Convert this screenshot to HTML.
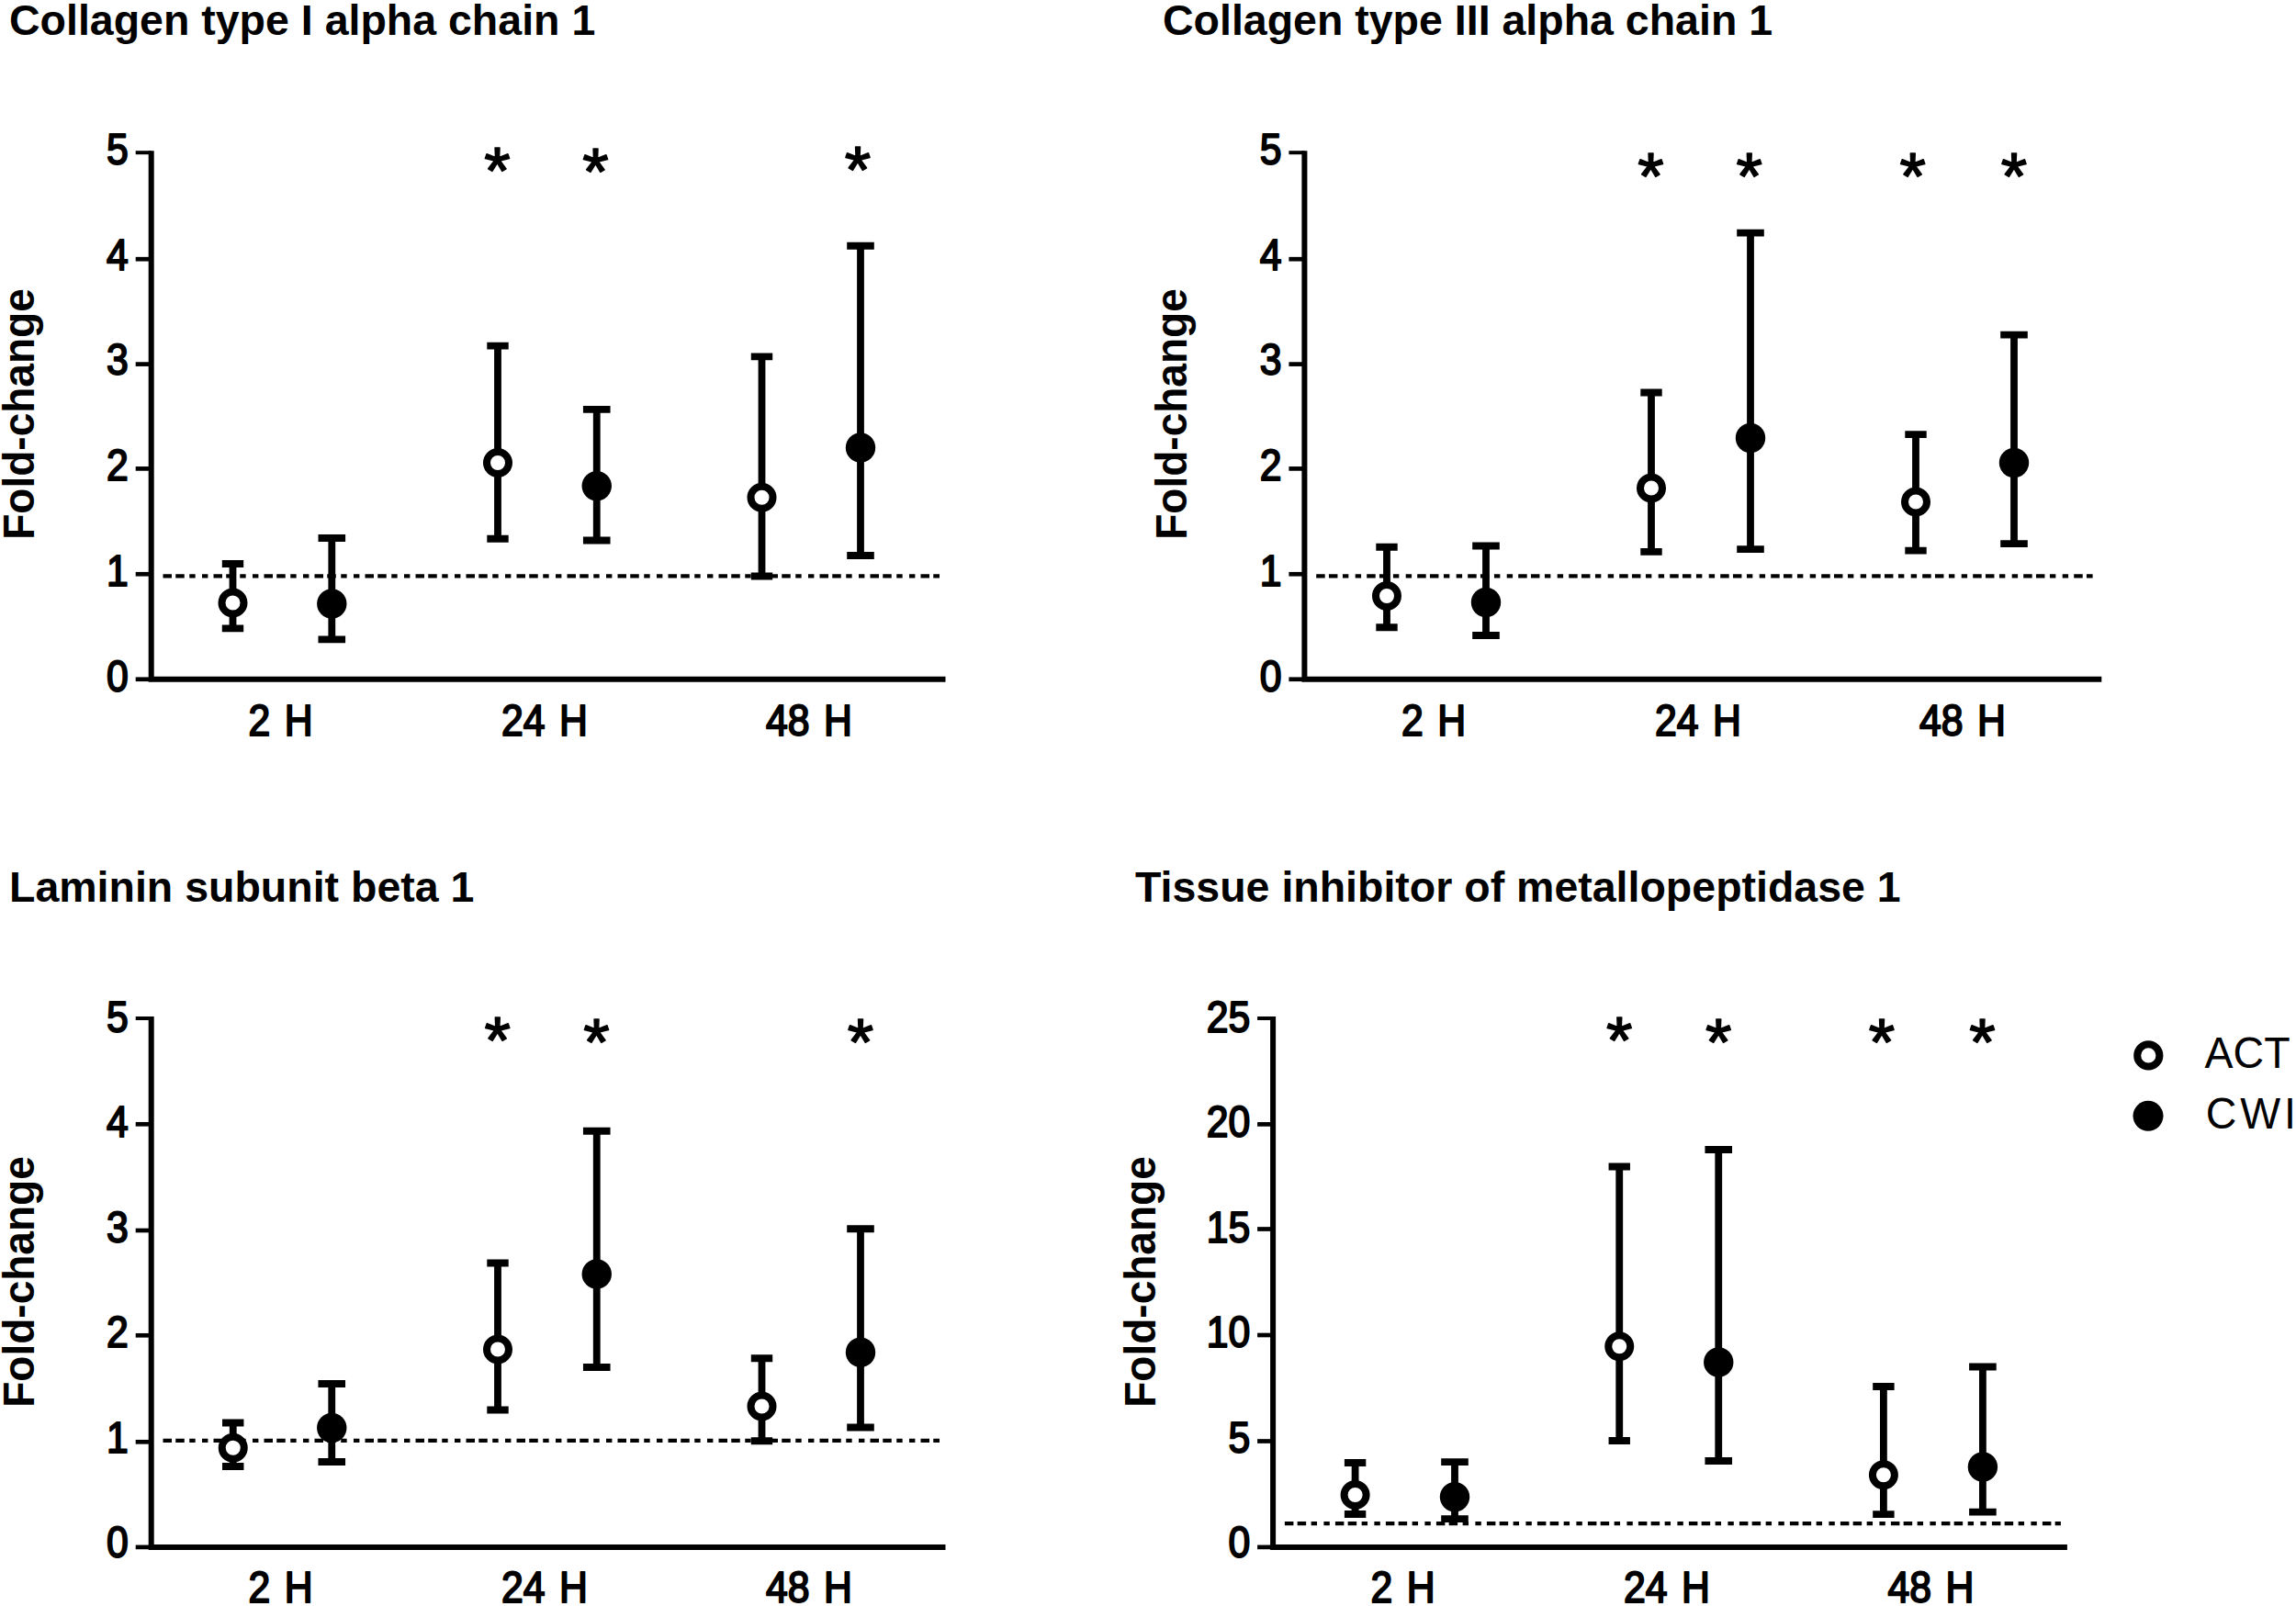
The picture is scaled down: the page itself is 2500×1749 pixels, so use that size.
<!DOCTYPE html>
<html lang="en"><head><meta charset="utf-8"><title>Fold-change plots</title>
<style>html,body{margin:0;padding:0;background:#fff}body{width:2500px;height:1749px;overflow:hidden}svg{display:block}
text{font-family:"Liberation Sans",Arial,Helvetica,sans-serif;fill:#000}
.t{font-weight:bold;font-size:46.5px}
.k{font-size:47.5px;stroke:#000;stroke-width:2px;stroke-linejoin:round;word-spacing:4px}
.y{font-weight:bold;font-size:47.2px}
.a{font-size:73px;text-anchor:middle;stroke:#000;stroke-width:1.6px;stroke-linejoin:round}
.l{font-size:48.6px}
.ax{stroke:#000;stroke-width:6;fill:none}
.tk{stroke:#000;stroke-width:4.7;fill:none}
.eb{stroke:#000;stroke-width:7.8;fill:none}
.dl{stroke:#000;stroke-width:4.2;fill:none;stroke-dasharray:9.5 4.25 9.5 5.5 6.4 7.35 6.4 6.1;stroke-linecap:butt}
.oc{fill:#fff;stroke:#000;stroke-width:8}
.fc{fill:#000}
</style></head><body>
<svg width="2500" height="1749" viewBox="0 0 2500 1749">
<rect width="2500" height="1749" fill="#fff"/>
<g>
<text class="t" x="10" y="38">Collagen type I alpha chain 1</text>
<line class="dl" x1="177.5" y1="627.3" x2="1023" y2="627.3"/>
<path class="ax" d="M164.7 164.2 V739.75 H1029.5"/>
<line class="tk" x1="147.7" y1="739.75" x2="164.7" y2="739.75"/>
<text class="k" text-anchor="end" transform="translate(139.8 752.65) scale(0.9 1)">0</text>
<line class="tk" x1="147.7" y1="625.25" x2="164.7" y2="625.25"/>
<text class="k" text-anchor="end" transform="translate(139.8 637.9) scale(0.9 1)">1</text>
<line class="tk" x1="147.7" y1="510.4" x2="164.7" y2="510.4"/>
<text class="k" text-anchor="end" transform="translate(139.8 523.15) scale(0.9 1)">2</text>
<line class="tk" x1="147.7" y1="396.6" x2="164.7" y2="396.6"/>
<text class="k" text-anchor="end" transform="translate(139.8 408.4) scale(0.9 1)">3</text>
<line class="tk" x1="147.7" y1="282.2" x2="164.7" y2="282.2"/>
<text class="k" text-anchor="end" transform="translate(139.8 293.65) scale(0.9 1)">4</text>
<line class="tk" style="stroke-width:4" x1="147.7" y1="166.2" x2="164.7" y2="166.2"/>
<text class="k" text-anchor="end" transform="translate(139.8 178.9) scale(0.9 1)">5</text>
<text class="y" text-anchor="middle" transform="translate(37.3 451) rotate(-90) scale(.975 1)">Fold-change</text>
<text class="k" text-anchor="middle" transform="translate(305.5 800.5) scale(0.9 1)">2 H</text>
<text class="k" text-anchor="middle" transform="translate(593 800.5) scale(0.9 1)">24 H</text>
<text class="k" text-anchor="middle" transform="translate(881 800.5) scale(0.9 1)">48 H</text>
<path class="eb" d="M241.8 614 H265.2 M241.8 684.4 H265.2 M253.5 614 V684.4"/>
<circle class="oc" cx="253.5" cy="656.5" r="12"/>
<path class="eb" d="M346.5 586 H376.1 M346.5 696.3 H376.1 M361.3 586 V696.3"/>
<circle class="fc" cx="361.3" cy="657.5" r="16.2"/>
<path class="eb" d="M530.3 376.6 H553.7 M530.3 586.75 H553.7 M542 376.6 V586.75"/>
<circle class="oc" cx="542" cy="504" r="12"/>
<path class="eb" d="M634.95 445.9 H664.55 M634.95 588.5 H664.55 M649.75 445.9 V588.5"/>
<circle class="fc" cx="649.75" cy="529.25" r="16.2"/>
<path class="eb" d="M817.8 388.4 H841.2 M817.8 627.5 H841.2 M829.5 388.4 V627.5"/>
<circle class="oc" cx="829.5" cy="541.75" r="12"/>
<path class="eb" d="M922.2 267.75 H951.8 M922.2 605 H951.8 M937 267.75 V605"/>
<circle class="fc" cx="937" cy="487.5" r="16.2"/>
<text class="a" x="541.4" y="211.1">*</text>
<text class="a" x="648.4" y="212.1">*</text>
<text class="a" x="934" y="209.6">*</text>
</g>
<g>
<text class="t" x="1266" y="38">Collagen type III alpha chain 1</text>
<line class="dl" x1="1433.2" y1="627.3" x2="2278.6" y2="627.3"/>
<path class="ax" d="M1420.4 164.2 V739.75 H2288.3"/>
<line class="tk" x1="1403.4" y1="739.75" x2="1420.4" y2="739.75"/>
<text class="k" text-anchor="end" transform="translate(1395.5 752.65) scale(0.9 1)">0</text>
<line class="tk" x1="1403.4" y1="625.25" x2="1420.4" y2="625.25"/>
<text class="k" text-anchor="end" transform="translate(1395.5 637.9) scale(0.9 1)">1</text>
<line class="tk" x1="1403.4" y1="510.4" x2="1420.4" y2="510.4"/>
<text class="k" text-anchor="end" transform="translate(1395.5 523.15) scale(0.9 1)">2</text>
<line class="tk" x1="1403.4" y1="396.6" x2="1420.4" y2="396.6"/>
<text class="k" text-anchor="end" transform="translate(1395.5 408.4) scale(0.9 1)">3</text>
<line class="tk" x1="1403.4" y1="282.2" x2="1420.4" y2="282.2"/>
<text class="k" text-anchor="end" transform="translate(1395.5 293.65) scale(0.9 1)">4</text>
<line class="tk" style="stroke-width:4" x1="1403.4" y1="166.2" x2="1420.4" y2="166.2"/>
<text class="k" text-anchor="end" transform="translate(1395.5 178.9) scale(0.9 1)">5</text>
<text class="y" text-anchor="middle" transform="translate(1292.3 451) rotate(-90) scale(.975 1)">Fold-change</text>
<text class="k" text-anchor="middle" transform="translate(1561 800.5) scale(0.9 1)">2 H</text>
<text class="k" text-anchor="middle" transform="translate(1849 800.5) scale(0.9 1)">24 H</text>
<text class="k" text-anchor="middle" transform="translate(2137 800.5) scale(0.9 1)">48 H</text>
<path class="eb" d="M1498.3 595.75 H1521.7 M1498.3 683.25 H1521.7 M1510 595.75 V683.25"/>
<circle class="oc" cx="1510" cy="649" r="12"/>
<path class="eb" d="M1603.2 594.5 H1632.8 M1603.2 692 H1632.8 M1618 594.5 V692"/>
<circle class="fc" cx="1618" cy="656" r="16.2"/>
<path class="eb" d="M1786.3 427.5 H1809.7 M1786.3 600.9 H1809.7 M1798 427.5 V600.9"/>
<circle class="oc" cx="1798" cy="531.5" r="12"/>
<path class="eb" d="M1891.2 253.6 H1920.8 M1891.2 598.1 H1920.8 M1906 253.6 V598.1"/>
<circle class="fc" cx="1906" cy="477" r="16.2"/>
<path class="eb" d="M2074.3 473.1 H2097.7 M2074.3 599.6 H2097.7 M2086 473.1 V599.6"/>
<circle class="oc" cx="2086" cy="546.5" r="12"/>
<path class="eb" d="M2178.2 364.6 H2207.8 M2178.2 592.1 H2207.8 M2193 364.6 V592.1"/>
<circle class="fc" cx="2193" cy="504" r="16.2"/>
<text class="a" x="1797.5" y="217">*</text>
<text class="a" x="1904.75" y="217">*</text>
<text class="a" x="2082.75" y="217">*</text>
<text class="a" x="2193" y="217">*</text>
</g>
<g>
<text class="t" x="10" y="981.5">Laminin subunit beta 1</text>
<line class="dl" x1="177.5" y1="1568.8" x2="1023" y2="1568.8"/>
<path class="ax" d="M164.7 1107 V1684.9 H1029.5"/>
<line class="tk" x1="147.7" y1="1684.9" x2="164.7" y2="1684.9"/>
<text class="k" text-anchor="end" transform="translate(139.8 1696) scale(0.9 1)">0</text>
<line class="tk" x1="147.7" y1="1570.3" x2="164.7" y2="1570.3"/>
<text class="k" text-anchor="end" transform="translate(139.8 1581.58) scale(0.9 1)">1</text>
<line class="tk" x1="147.7" y1="1454.3" x2="164.7" y2="1454.3"/>
<text class="k" text-anchor="end" transform="translate(139.8 1467.16) scale(0.9 1)">2</text>
<line class="tk" x1="147.7" y1="1340" x2="164.7" y2="1340"/>
<text class="k" text-anchor="end" transform="translate(139.8 1352.74) scale(0.9 1)">3</text>
<line class="tk" x1="147.7" y1="1224.3" x2="164.7" y2="1224.3"/>
<text class="k" text-anchor="end" transform="translate(139.8 1238.32) scale(0.9 1)">4</text>
<line class="tk" style="stroke-width:4" x1="147.7" y1="1109" x2="164.7" y2="1109"/>
<text class="k" text-anchor="end" transform="translate(139.8 1123.9) scale(0.9 1)">5</text>
<text class="y" text-anchor="middle" transform="translate(37.3 1396) rotate(-90) scale(.975 1)">Fold-change</text>
<text class="k" text-anchor="middle" transform="translate(305.5 1744.7) scale(0.9 1)">2 H</text>
<text class="k" text-anchor="middle" transform="translate(593 1744.7) scale(0.9 1)">24 H</text>
<text class="k" text-anchor="middle" transform="translate(881 1744.7) scale(0.9 1)">48 H</text>
<path class="eb" d="M242.05 1549.5 H265.45 M242.05 1597 H265.45 M253.75 1549.5 V1597"/>
<circle class="oc" cx="253.75" cy="1576.75" r="12"/>
<path class="eb" d="M346.45 1507 H376.05 M346.45 1592 H376.05 M361.25 1507 V1592"/>
<circle class="fc" cx="361.25" cy="1555" r="16.2"/>
<path class="eb" d="M530.3 1375.5 H553.7 M530.3 1535.5 H553.7 M542 1375.5 V1535.5"/>
<circle class="oc" cx="542" cy="1469.5" r="12"/>
<path class="eb" d="M634.95 1231.75 H664.55 M634.95 1489 H664.55 M649.75 1231.75 V1489"/>
<circle class="fc" cx="649.75" cy="1387.5" r="16.2"/>
<path class="eb" d="M817.8 1479.25 H841.2 M817.8 1569.25 H841.2 M829.5 1479.25 V1569.25"/>
<circle class="oc" cx="829.5" cy="1531.5" r="12"/>
<path class="eb" d="M922.2 1338.25 H951.8 M922.2 1554.5 H951.8 M937 1338.25 V1554.5"/>
<circle class="fc" cx="937" cy="1472.75" r="16.2"/>
<text class="a" x="541.6" y="1158.35">*</text>
<text class="a" x="649.4" y="1160.1">*</text>
<text class="a" x="936.9" y="1160.1">*</text>
</g>
<g>
<text class="t" x="1236" y="981.5">Tissue inhibitor of metallopeptidase 1</text>
<line class="dl" x1="1398.9" y1="1659.2" x2="2243.9" y2="1659.2"/>
<path class="ax" d="M1386.1 1107 V1684.9 H2250.9"/>
<line class="tk" x1="1369.1" y1="1684.9" x2="1386.1" y2="1684.9"/>
<text class="k" text-anchor="end" transform="translate(1361.2 1696) scale(0.9 1)">0</text>
<line class="tk" x1="1369.1" y1="1569.5" x2="1386.1" y2="1569.5"/>
<text class="k" text-anchor="end" transform="translate(1361.2 1581.58) scale(0.9 1)">5</text>
<line class="tk" x1="1369.1" y1="1454" x2="1386.1" y2="1454"/>
<text class="k" text-anchor="end" transform="translate(1361.2 1467.16) scale(0.9 1)">10</text>
<line class="tk" x1="1369.1" y1="1338.5" x2="1386.1" y2="1338.5"/>
<text class="k" text-anchor="end" transform="translate(1361.2 1352.74) scale(0.9 1)">15</text>
<line class="tk" x1="1369.1" y1="1224.4" x2="1386.1" y2="1224.4"/>
<text class="k" text-anchor="end" transform="translate(1361.2 1238.32) scale(0.9 1)">20</text>
<line class="tk" style="stroke-width:4" x1="1369.1" y1="1109" x2="1386.1" y2="1109"/>
<text class="k" text-anchor="end" transform="translate(1361.2 1123.9) scale(0.9 1)">25</text>
<text class="y" text-anchor="middle" transform="translate(1258.3 1396) rotate(-90) scale(.975 1)">Fold-change</text>
<text class="k" text-anchor="middle" transform="translate(1527.5 1744.7) scale(0.9 1)">2 H</text>
<text class="k" text-anchor="middle" transform="translate(1815 1744.7) scale(0.9 1)">24 H</text>
<text class="k" text-anchor="middle" transform="translate(2102.5 1744.7) scale(0.9 1)">48 H</text>
<path class="eb" d="M1463.9 1593 H1487.3 M1463.9 1649 H1487.3 M1475.6 1593 V1649"/>
<circle class="oc" cx="1475.6" cy="1628" r="12"/>
<path class="eb" d="M1569.2 1592.1 H1598.8 M1569.2 1654.1 H1598.8 M1584 1592.1 V1654.1"/>
<circle class="fc" cx="1584" cy="1630.3" r="16.2"/>
<path class="eb" d="M1751.55 1270.5 H1774.95 M1751.55 1569 H1774.95 M1763.25 1270.5 V1569"/>
<circle class="oc" cx="1763.25" cy="1466.25" r="12"/>
<path class="eb" d="M1856.45 1252 H1886.05 M1856.45 1591 H1886.05 M1871.25 1252 V1591"/>
<circle class="fc" cx="1871.25" cy="1483.5" r="16.2"/>
<path class="eb" d="M2039.2 1510 H2062.6 M2039.2 1649.2 H2062.6 M2050.9 1510 V1649.2"/>
<circle class="oc" cx="2050.9" cy="1606.25" r="12"/>
<path class="eb" d="M2144.1 1488.5 H2173.7 M2144.1 1646.6 H2173.7 M2158.9 1488.5 V1646.6"/>
<circle class="fc" cx="2158.9" cy="1597.5" r="16.2"/>
<text class="a" x="1763.1" y="1158.35">*</text>
<text class="a" x="1871.25" y="1160.1">*</text>
<text class="a" x="2049" y="1160.1">*</text>
<text class="a" x="2158.5" y="1160.1">*</text>
</g>
<g>
<circle class="oc" cx="2339.3" cy="1149.4" r="12.1"/>
<circle class="fc" cx="2339" cy="1215.3" r="16.5"/>
<text class="l" transform="translate(2400.6 1163.1) scale(.957 1)">ACT</text>
<text class="l" style="letter-spacing:4px" transform="translate(2401.8 1228.7) scale(.957 1)">CWI</text>
</g>
</svg></body></html>
